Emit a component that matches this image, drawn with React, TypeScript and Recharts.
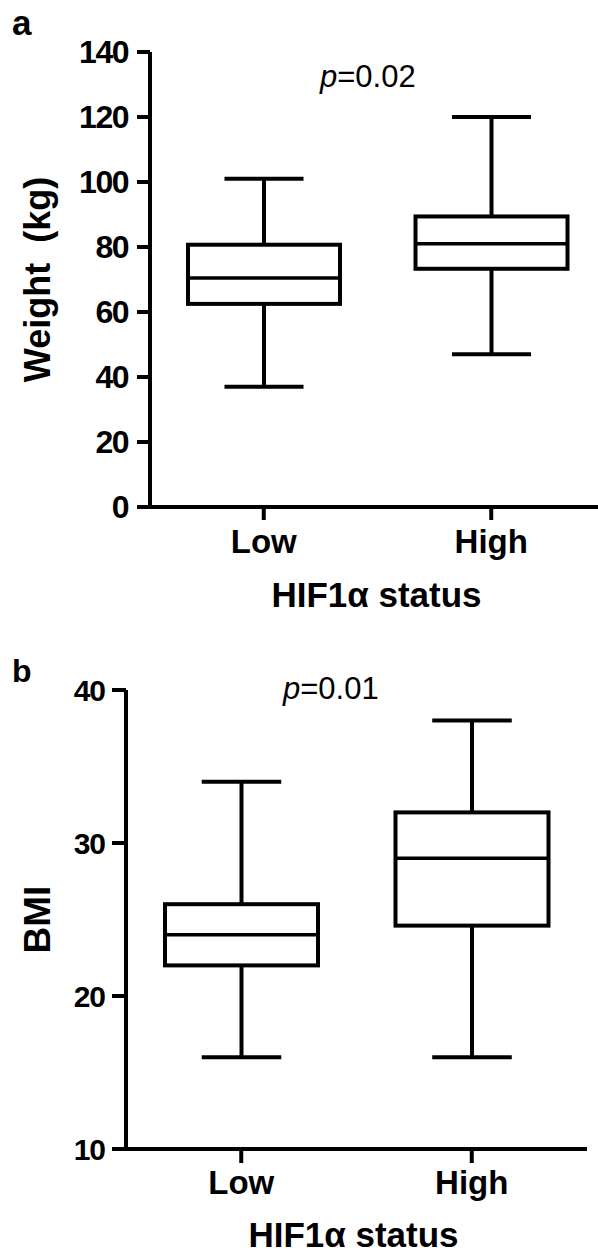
import { ComposedChart, Bar, XAxis, YAxis } from 'recharts';

const categories = ['Low', 'High'];

// panel a: weight (kg)
const weightMin = [37, 47];
const weightQ1 = [62.5, 73.3];
const weightMedian = [70.5, 81];
const weightQ3 = [80.7, 89.4];
const weightMax = [101, 120];
const weightTicks = [0, 20, 40, 60, 80, 100, 120, 140];

// panel b: BMI
const bmiMin = [16, 16];
const bmiQ1 = [22, 24.6];
const bmiMedian = [24, 29];
const bmiQ3 = [26, 32];
const bmiMax = [34, 38];
const bmiTicks = [10, 20, 30, 40];

const FONT = "'Liberation Sans', Arial, Helvetica, sans-serif";
const INK = '#000';

const buildRows = (min: number[], q1: number[], med: number[], q3: number[], max: number[]) =>
  categories.map((name, i) => ({
    name,
    range: [min[i], max[i]],
    q1: q1[i],
    median: med[i],
    q3: q3[i],
  }));

const weightData = buildRows(weightMin, weightQ1, weightMedian, weightQ3, weightMax);
const bmiData = buildRows(bmiMin, bmiQ1, bmiMedian, bmiQ3, bmiMax);

// draws whiskers, box and median inside the pixel span the Bar gives for [min, max]
function BoxShape(props: any) {
  const { x, y, width, height, payload } = props;
  if (!payload || height == null) return null;
  const [lo, hi] = payload.range;
  const toY = (v: number) => y + (height * (hi - v)) / (hi - lo);
  const cx = x + width / 2;
  const cap = width * 0.26;
  const yMax = toY(hi);
  const yMin = toY(lo);
  const yQ3 = toY(payload.q3);
  const yQ1 = toY(payload.q1);
  const yMed = toY(payload.median);
  return (
    <g stroke={INK} strokeWidth={4} fill="none">
      <line x1={cx} x2={cx} y1={yMax} y2={yQ3} />
      <line x1={cx} x2={cx} y1={yQ1} y2={yMin} />
      <line x1={cx - cap} x2={cx + cap} y1={yMax} y2={yMax} />
      <line x1={cx - cap} x2={cx + cap} y1={yMin} y2={yMin} />
      <rect x={x} y={yQ3} width={width} height={yQ1 - yQ3} fill="#fff" />
      <line x1={x} x2={x + width} y1={yMed} y2={yMed} strokeWidth={3.5} />
    </g>
  );
}

const axisStroke = { stroke: INK, strokeWidth: 4 };

export default function App() {
  return (
    <div style={{ position: 'absolute', left: 0, top: 0, width: 598, height: 1253, overflow: 'hidden', background: '#fff' }}>
      <div style={{ position: 'absolute', left: 0, top: 0 }}>
        <ComposedChart width={605} height={617} data={weightData} margin={{ top: 52, right: 0, bottom: 0, left: 0 }}>
          <XAxis
            dataKey="name"
            interval={0}
            height={110}
            axisLine={axisStroke}
            tickLine={axisStroke}
            tickSize={13}
            tickMargin={10}
            tick={{ fill: INK, fontSize: 33, fontWeight: 'bold', fontFamily: FONT }}
            label={{ value: 'HIF1α status', position: 'insideBottom', offset: 10, dx: -1, style: { fill: INK, fontSize: 35, fontWeight: 'bold', fontFamily: FONT } }}
          />
          <YAxis
            width={150}
            domain={[0, 140]}
            ticks={weightTicks}
            interval={0}
            axisLine={axisStroke}
            tickLine={axisStroke}
            tickSize={13}
            tickMargin={9}
            tick={{ fill: INK, fontSize: 32, fontWeight: 'bold', fontFamily: FONT, letterSpacing: -1.5 }}
            label={{ value: 'Weight\u00a0 (kg)', angle: -90, position: 'insideLeft', offset: 37, style: { textAnchor: 'middle', fill: INK, fontSize: 36, fontWeight: 'bold', fontFamily: FONT } }}
          />
          <Bar dataKey="range" barSize={152} shape={BoxShape} isAnimationActive={false} />
        </ComposedChart>
      </div>
      <div style={{ position: 'absolute', left: 0, top: 630 }}>
        <ComposedChart width={587} height={623} data={bmiData} margin={{ top: 60, right: 0, bottom: 0, left: 0 }}>
          <XAxis
            dataKey="name"
            interval={0}
            height={104}
            axisLine={axisStroke}
            tickLine={axisStroke}
            tickSize={14}
            tickMargin={8}
            tick={{ fill: INK, fontSize: 33, fontWeight: 'bold', fontFamily: FONT }}
            label={{ value: 'HIF1α status', position: 'insideBottom', offset: 6, dx: -3, style: { fill: INK, fontSize: 35, fontWeight: 'bold', fontFamily: FONT } }}
          />
          <YAxis
            width={126}
            domain={[10, 40]}
            ticks={bmiTicks}
            interval={0}
            axisLine={axisStroke}
            tickLine={axisStroke}
            tickSize={14}
            tickMargin={7}
            tick={{ fill: INK, fontSize: 30, fontWeight: 'bold', fontFamily: FONT, letterSpacing: -1 }}
            label={{ value: 'BMI', angle: -90, position: 'insideLeft', offset: 37, style: { textAnchor: 'middle', fill: INK, fontSize: 37, fontWeight: 'bold', fontFamily: FONT } }}
          />
          <Bar dataKey="range" barSize={153} shape={BoxShape} isAnimationActive={false} />
        </ComposedChart>
      </div>
      <svg width={598} height={1253} style={{ position: 'absolute', left: 0, top: 0, pointerEvents: 'none' }}>
        <g fontFamily={FONT} fill={INK}>
          <text x={12} y={35} fontSize={35} fontWeight="bold">a</text>
          <text x={12} y={682} fontSize={32} fontWeight="bold">b</text>
          <text x={320} y={87} fontSize={31}>
            <tspan fontStyle="italic">p</tspan>=0.02
          </text>
          <text x={283} y={699} fontSize={31}>
            <tspan fontStyle="italic">p</tspan>=0.01
          </text>
        </g>
      </svg>
    </div>
  );
}
